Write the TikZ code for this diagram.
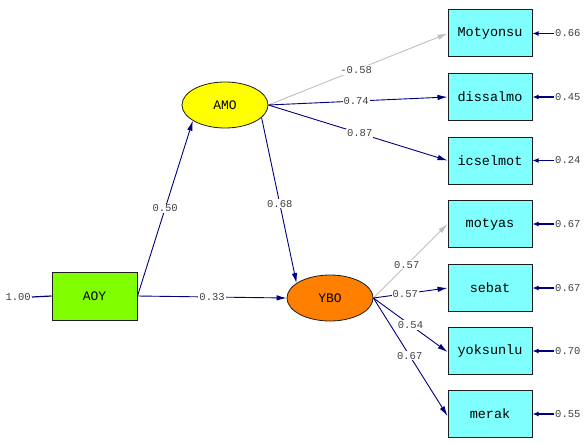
\documentclass[tikz,border=0pt]{standalone}
\usepackage{fontspec}
\setmonofont{Liberation Mono}
\usetikzlibrary{arrows.meta,shapes.geometric}
\definecolor{cyanbox}{RGB}{128,255,255}
\definecolor{navy}{RGB}{0,0,128}
\definecolor{amoc}{RGB}{255,255,0}
\definecolor{yboc}{RGB}{255,128,0}
\definecolor{aoyc}{RGB}{128,255,0}
\definecolor{lgray}{RGB}{192,192,192}
\definecolor{edge}{RGB}{30,30,30}
\begin{document}
\begin{tikzpicture}[x=1pt,y=-1pt,
  obsbox/.style={draw=edge,line width=1pt,fill=cyanbox,minimum width=84pt,minimum height=47pt,inner sep=0pt,font=\ttfamily\fontsize{13.5}{13.5}\selectfont},
  latent/.style={ellipse,draw=edge,line width=0.8pt,minimum width=86pt,minimum height=46pt,inner sep=0pt,font=\ttfamily\fontsize{13}{13}\selectfont},
  lbl/.style={fill=white,inner sep=1pt,font=\ttfamily\fontsize{10.5}{10.5}\selectfont,text=black!75},
  elbl/.style={anchor=west,inner sep=1pt,font=\ttfamily\fontsize{10.5}{10.5}\selectfont,text=black!75},
  path/.style={draw=navy,line width=0.9pt,-{Latex[length=10pt,width=5.5pt]}},
  gpath/.style={draw=lgray,line width=0.9pt,-{Latex[length=10pt,width=5.5pt]}},
  errarrow/.style={draw=navy,line width=1.5pt,-{Latex[length=6pt,width=5pt]}}
]
\useasboundingbox[fill=white] (0,0) rectangle (586,444);
% observed
\node[obsbox] (m1) at (490,33.5) {Motyonsu};
\node[obsbox] (m2) at (490,97) {dissalmo};
\node[obsbox] (m3) at (490,160.5) {icselmot};
\node[obsbox] (y1) at (490,224) {motyas};
\node[obsbox] (y2) at (490,288) {sebat};
\node[obsbox] (y3) at (490,351) {yoksunlu};
\node[obsbox] (y4) at (490,414) {merak};
\node[obsbox,fill=aoyc,minimum height=48pt,minimum width=85pt,font=\ttfamily\fontsize{13}{13}\selectfont] (aoy) at (94.5,296) {AOY};
% latent
\node[latent,fill=amoc] (amo) at (225,105) {AMO};
\node[latent,fill=yboc] (ybo) at (330,298) {YBO};
% structural paths
\draw[path] (aoy.east) -- node[lbl,pos=0.5] {0.50} (amo.206);
\draw[path] (amo.-19) -- node[lbl,pos=0.52] {0.68} (ybo.156);
\draw[path] (aoy.east) -- node[lbl,pos=0.5] {0.33} (ybo.west);
% AMO loadings
\draw[gpath] (amo.east) -- node[lbl,pos=0.49] {-0.58} (m1.west);
\draw[path] (amo.east) -- node[lbl,pos=0.49] {0.74} (m2.west);
\draw[path] (amo.east) -- node[lbl,pos=0.51] {0.87} (m3.west);
% YBO loadings
\draw[gpath] (ybo.east) -- node[lbl,pos=0.45] {0.57} (y1.west);
\draw[path] (ybo.east) -- node[lbl,pos=0.43] {0.57} (y2.west);
\draw[path] (ybo.east) -- node[lbl,pos=0.5] {0.54} ([yshift=-1pt]y3.west);
\draw[path] (ybo.east) -- node[lbl,pos=0.49] {0.67} ([yshift=-2pt]y4.west);
% errors
\node[elbl] (e1) at (554,33.5) {0.66};
\node[elbl] (e2) at (554,97) {0.45};
\node[elbl] (e3) at (554,160.5) {0.24};
\node[elbl] (e4) at (554,224) {0.67};
\node[elbl] (e5) at (554,288) {0.67};
\node[elbl] (e6) at (554,351) {0.70};
\node[elbl] (e7) at (554,414) {0.55};
\draw[errarrow] (e1.west) -- (m1.east);
\draw[errarrow] (e2.west) -- (m2.east);
\draw[errarrow] (e3.west) -- (m3.east);
\draw[errarrow] (e4.west) -- (y1.east);
\draw[errarrow] (e5.west) -- (y2.east);
\draw[errarrow] (e6.west) -- (y3.east);
\draw[errarrow] (e7.west) -- (y4.east);
% AOY variance
\node[anchor=east,inner sep=1pt,font=\ttfamily\fontsize{10.5}{10.5}\selectfont,text=black!75] (v1) at (32,297) {1.00};
\draw[navy,line width=1.2pt] (v1.east) -- (aoy.west);
\end{tikzpicture}
\end{document}
